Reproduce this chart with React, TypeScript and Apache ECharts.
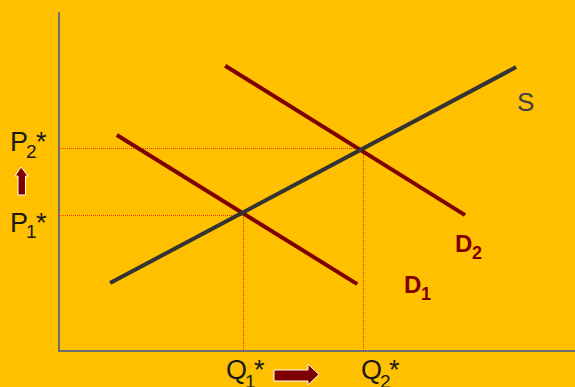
import React, { useEffect, useRef } from "react";
import * as echarts from "echarts";

// Curve endpoints (Q, P) on a 0–100 scale
const supplyLine: [number, number][] = [[9.9, 20.1], [88.6, 84.0]];
const demand1Line: [number, number][] = [[11.2, 63.9], [57.8, 19.8]];
const demand2Line: [number, number][] = [[32.2, 84.4], [78.7, 40.2]];
// Equilibria
const eq1: [number, number] = [35.76, 40.09];
const eq2: [number, number] = [59.01, 59.91];

const BG = "#FFC000";
const DARKRED = "#7f0000";
const DOT = "#e8301a";
const FONT = "Liberation Sans, Arial, sans-serif";

function txt(text: string, x: number, y: number, size: number, color: string, weight = "normal") {
  return {
    type: "text",
    x,
    y,
    style: {
      text,
      fill: color,
      fontSize: size,
      fontFamily: FONT,
      fontWeight: weight,
      textAlign: "left",
      textVerticalAlign: "middle",
    },
  };
}

export default function App() {
  const ref = useRef<HTMLDivElement>(null);
  useEffect(() => {
    document.body.style.margin = "0";
    const chart = echarts.init(ref.current!, undefined, { renderer: "svg" });
    const axisCommon = {
      type: "value" as const,
      min: 0,
      max: 100,
      axisLine: { show: true, lineStyle: { color: "#6e6e6e", width: 2 } },
      axisTick: { show: false },
      axisLabel: { show: false },
      splitLine: { show: false },
    };
    chart.setOption({
      animation: false,
      backgroundColor: BG,
      grid: { left: 59, right: 0, top: 13, bottom: 36 },
      xAxis: axisCommon,
      yAxis: axisCommon,
      series: [
        {
          type: "line",
          data: [[0, eq1[1]], eq1, [eq1[0], 0]],
          symbol: "none",
          lineStyle: { color: DOT, width: 1, type: [1, 1] },
          z: 1,
        },
        {
          type: "line",
          data: [[0, eq2[1]], eq2, [eq2[0], 0]],
          symbol: "none",
          lineStyle: { color: DOT, width: 1, type: [1, 1] },
          z: 1,
        },
        {
          type: "line",
          data: demand1Line,
          symbol: "none",
          lineStyle: { color: DARKRED, width: 4 },
          z: 2,
        },
        {
          type: "line",
          data: demand2Line,
          symbol: "none",
          lineStyle: { color: DARKRED, width: 4 },
          z: 2,
        },
        {
          type: "line",
          data: supplyLine,
          symbol: "none",
          lineStyle: { color: "#333333", width: 4 },
          z: 3,
        },
      ],
      graphic: [
        // P2*
        txt("P", 10, 142, 27, "#1a1a1a"),
        txt("2", 26, 151, 19, "#1a1a1a"),
        txt("*", 36, 142, 27, "#1a1a1a"),
        // P1*
        txt("P", 10, 223, 27, "#1a1a1a"),
        txt("1", 26, 231, 19, "#1a1a1a"),
        txt("*", 36, 223, 27, "#1a1a1a"),
        // Q1*
        txt("Q", 226, 370, 27, "#1a1a1a"),
        txt("1", 245, 381, 19, "#1a1a1a"),
        txt("*", 254, 370, 27, "#1a1a1a"),
        // Q2*
        txt("Q", 361, 370, 27, "#1a1a1a"),
        txt("2", 380, 381, 19, "#1a1a1a"),
        txt("*", 389, 370, 27, "#1a1a1a"),
        // Curve labels
        txt("S", 517, 102, 26, "#404040"),
        txt("D", 404, 284, 24, DARKRED, "bold"),
        txt("1", 421, 294, 18, DARKRED, "bold"),
        txt("D", 455, 243, 24, DARKRED, "bold"),
        txt("2", 472, 253, 18, DARKRED, "bold"),
        // Up arrow
        {
          type: "polygon",
          shape: {
            points: [[21, 167], [28, 176], [25.5, 176], [25.5, 195], [18, 195], [18, 176], [15, 176]],
          },
          style: { fill: DARKRED, stroke: "#ffffff", lineWidth: 1 },
        },
        // Right arrow
        {
          type: "polygon",
          shape: {
            points: [[274, 370], [308, 370], [308, 364], [319, 374.5], [308, 385], [308, 381], [274, 381]],
          },
          style: { fill: DARKRED, stroke: "#ffffff", lineWidth: 1 },
        },
      ],
    });
    return () => chart.dispose();
  }, []);
  return <div ref={ref} style={{ width: 575, height: 387 }} />;
}
